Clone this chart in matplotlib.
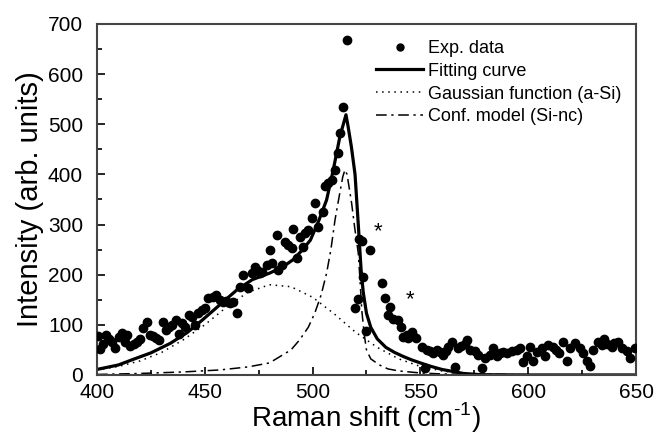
import numpy as np
import matplotlib
matplotlib.use("Agg")
from matplotlib import pyplot as plt
from matplotlib.ticker import MultipleLocator
from matplotlib.lines import Line2D

plt.rcParams['font.family'] = ['Liberation Sans', 'DejaVu Sans']
plt.rcParams['mathtext.fontset'] = 'custom'
plt.rcParams['mathtext.rm'] = 'Liberation Sans'

# experimental points (Raman shift, intensity)
exp_x = [400.5, 401.5, 403.0, 404.0, 405.5, 407.0, 408.5, 410.0, 411.5, 413.0,
         414.0, 415.5, 417.0, 418.5, 420.0, 421.5, 423.0, 424.5, 426.0, 427.5,
         429.0, 430.5, 432.0, 433.5, 435.0, 436.5, 438.0, 439.5, 441.0, 442.5,
         444.0, 445.5, 447.0, 448.5, 450.0, 451.6, 454.0, 455.0, 457.0, 458.6,
         460.0, 461.7, 463.0, 464.8, 466.3, 467.9, 470.2, 471.7, 473.3, 474.1,
         475.6, 476.4, 478.7, 480.2, 481.0, 483.3, 484.1, 485.7, 487.2, 488.7,
         490.3, 491.0, 492.6, 494.2, 495.7, 496.5, 498.0, 499.6, 501.1, 502.7,
         505.0, 505.8, 507.3, 508.9, 510.4, 512.0, 512.7, 514.3, 515.8, 519.7,
         521.0, 521.5, 523.0, 523.5, 525.0, 526.6, 532.0, 533.6, 535.1, 535.9,
         537.4, 539.7, 541.0, 542.0, 543.6, 544.4, 546.0, 546.7, 548.0, 550.6,
         552.0, 552.9, 554.5, 556.0, 557.5, 559.1, 560.5, 562.0, 563.0, 564.5,
         566.0, 567.6, 569.0, 570.5, 571.5, 573.0, 575.3, 576.9, 578.4, 580.0,
         582.3, 583.8, 585.4, 586.9, 588.5, 590.0, 592.3, 594.6, 596.0, 597.7,
         599.3, 600.8, 602.4, 604.0, 606.2, 607.8, 609.3, 611.6, 613.0, 614.5,
         616.3, 617.9, 619.4, 621.7, 624.0, 625.6, 627.1, 628.7, 630.2, 632.5,
         634.0, 635.0, 636.5, 638.7, 640.0, 641.8, 643.3, 645.6, 647.2, 649.5]
exp_y = [78, 52, 62, 80, 72, 66, 54, 75, 84, 66,
         80, 57, 62, 66, 72, 93, 106, 80, 78, 74,
         70, 106, 90, 96, 100, 110, 82, 103, 96, 120,
         116, 100, 124, 130, 133, 153, 156, 160, 150, 146,
         148, 143, 145, 123, 176, 200, 173, 203, 216, 210,
         203, 206, 220, 250, 223, 279, 210, 220, 266, 259,
         253, 291, 233, 276, 256, 283, 289, 313, 343, 296,
         326, 376, 382, 389, 409, 442, 482, 534, 669, 133,
         152, 272, 268, 196, 87, 250, 183, 153, 120, 136,
         111, 110, 96, 76, 80, 73, 86, 78, 73, 55,
         14, 50, 48, 43, 50, 46, 40, 48, 56, 66,
         15, 53, 58, 62, 70, 50, 47, 40, 13, 33,
         40, 53, 37, 43, 46, 43, 47, 50, 53, 26,
         37, 56, 27, 45, 53, 37, 60, 56, 50, 43,
         66, 27, 53, 63, 53, 43, 28, 17, 50, 66,
         60, 72, 62, 56, 63, 66, 53, 47, 33, 53]

# fitting curve (sum of both components)
fit_x = [400, 410, 418, 425, 434, 442, 449, 457, 465, 472, 480, 486, 491, 495,
         499, 503, 506.5, 509.6, 512.7, 515.5, 516.5, 518, 519.7, 521.2, 522.5,
         523.5, 525, 527, 530, 534, 538, 542, 546, 550, 555, 560, 565, 570, 578,
         600, 650]
fit_y = [11, 20, 33, 44, 63, 85, 110, 140, 170, 190, 203, 215, 230, 248,
         269, 309, 349, 409, 476, 519, 495, 455, 400, 300, 210,
         165, 123, 95, 72, 55, 45, 37, 30, 24, 17, 11, 7, 3, 0.5,
         0, 0]

# Gaussian component (a-Si)
gauss_x = [400, 410, 420, 430, 440, 450, 460, 470, 480, 490, 500, 510, 520,
           530, 540, 550, 560, 570, 580, 600, 650]
gauss_y = [10, 17, 28, 45, 70, 100, 135, 165, 180, 176, 155, 122, 85,
           55, 32, 17, 8, 3, 1, 0, 0]

# confinement model component (Si-nc)
conf_x = [400, 420, 440, 457, 470, 480, 485, 490, 494, 498, 501, 504, 506.5,
          508.5, 510.4, 512.5, 514, 515, 516, 518.1, 519.5, 521.2, 522, 522.8,
          524, 525, 527, 531, 535, 540, 550, 560, 600, 650]
conf_y = [1, 3, 6, 10, 16, 24, 37, 50, 70, 95, 123, 160, 203,
          250, 309, 360, 395, 409, 400, 343, 295, 243, 190, 130,
          80, 50, 32, 20, 12, 8, 4, 2, 0.5, 0]

fig = plt.figure(figsize=(6.55, 4.36), dpi=100)
ax = fig.add_axes([0.148, 0.140, 0.823, 0.805])

ax.plot(exp_x, exp_y, 'o', color='black', ms=6, zorder=3)
ax.plot(fit_x, fit_y, '-', color='black', lw=2.3, zorder=2)
ax.plot(gauss_x, gauss_y, color='black', lw=1.1, linestyle=(0, (1, 3)))
ax.plot(conf_x, conf_y, color='black', lw=1.1, linestyle=(0, (7, 3, 1.5, 3)))

ax.text(530.5, 286, '*', fontsize=16, ha='center', va='center')
ax.text(545, 150, '*', fontsize=16, ha='center', va='center')

ax.set_xlim(400, 650)
ax.set_ylim(0, 700)
ax.xaxis.set_major_locator(MultipleLocator(50))
ax.xaxis.set_minor_locator(MultipleLocator(25))
ax.yaxis.set_major_locator(MultipleLocator(100))
ax.yaxis.set_minor_locator(MultipleLocator(50))
ax.tick_params(which='both', direction='in', labelsize=15, width=1.2)
ax.tick_params(which='major', length=6)
ax.tick_params(which='minor', length=3.5)
ax.tick_params(axis='x', which='major', pad=6)
ax.tick_params(axis='y', which='major', pad=10)
for s in ax.spines.values():
    s.set_color('#444444')
    s.set_linewidth(1.5)

ax.set_xlabel('Raman shift (cm$^{\\mathrm{\u2010}1}$)', fontsize=20, labelpad=-1)
ax.set_ylabel('Intensity (arb. units)', fontsize=21, labelpad=3)

handles = [
    Line2D([], [], marker='o', ls='none', color='black', ms=5),
    Line2D([], [], color='black', lw=2.3),
    Line2D([], [], color='black', lw=1.1, linestyle=(0, (1, 3))),
    Line2D([], [], color='black', lw=1.1, linestyle=(0, (7, 3, 1.5, 3))),
]
labels = ['Exp. data', 'Fitting curve', 'Gaussian function (a-Si)', 'Conf. model (Si-nc)']
ax.legend(handles, labels, loc='upper left', bbox_to_anchor=(0.505, 0.975),
          frameon=False, fontsize=13, handlelength=2.6, handletextpad=0.25,
          labelspacing=0.32, borderaxespad=0)

fig.savefig('out.png', dpi=100)
